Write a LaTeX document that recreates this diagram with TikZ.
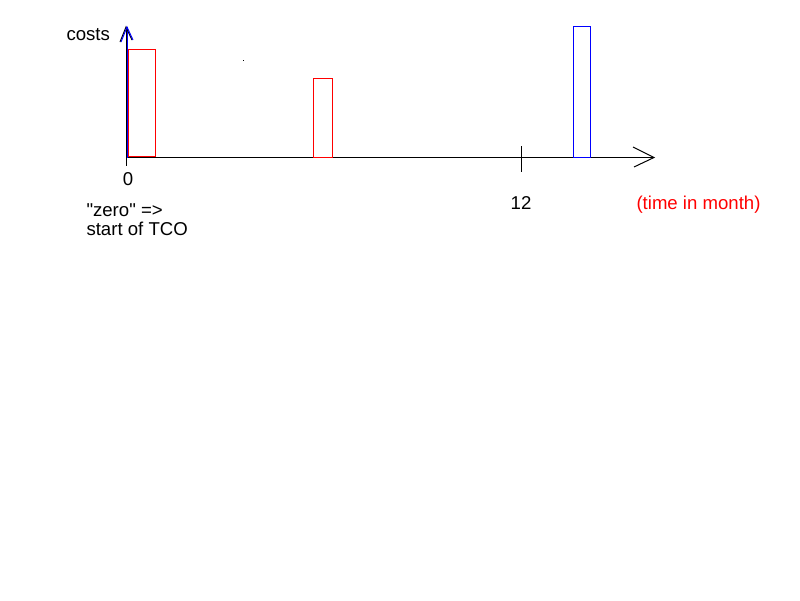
\documentclass[tikz,border=0pt]{standalone}
\usepackage{fontspec}
\setmainfont{Liberation Sans}[Ligatures=TeXOff]
\usepackage{tikz}
\usetikzlibrary{calc}
\newcommand{\costbar}[3]{
	\node[draw = #3, rectangle, inner sep = 0, anchor = south west, minimum width = #1, minimum height = #2]
}

\begin{document}
\begin{tikzpicture}[x=1pt, y=-1pt, line width=1pt, every node/.style={font=\fontsize{18.6}{19}\selectfont, inner sep=0}]
		\useasboundingbox[fill=white] (0,0) rectangle (800,600);

		\coordinate (origin) at (127,157.5);
		\coordinate (xend) at (654,157.5);
		\coordinate (yend) at (127,27);

		\draw (126,27) -- (126,166);
		\draw (origin) -- (xend);
		\draw (633,147) -- (xend) -- (634,167);
		\draw[blue] (origin) -- (yend);
		\draw (120,42) -- (126,27) -- (132,40);
		\draw[blue] (121,42) -- (yend) -- (133,40);

		\draw (521,146) -- (521,172);

		\costbar{27pt}{107pt}{red} (bar_1) at (127.5,157) {};
		\costbar{19pt}{79pt}{red} (bar_2) at (312.5,157.5) {};
		\costbar{17pt}{131pt}{blue} (bar_3) at (572.5,158) {};

		\fill (242.5,59.5) rectangle (243.5,60.5);

		\node[anchor=base west] (costs) at (66,40) {costs};
		\node[anchor=base] (zero) at (128,185) {0};
		\node[anchor=base] (twelve) at (521,209) {12};
		\node[anchor=base west, red] (unit) at (636,209) {(time in month)};
		\node[anchor=base west, align=left] (note) at (86,235) {"zero" =>\\start of TCO};
\end{tikzpicture}
\end{document}
